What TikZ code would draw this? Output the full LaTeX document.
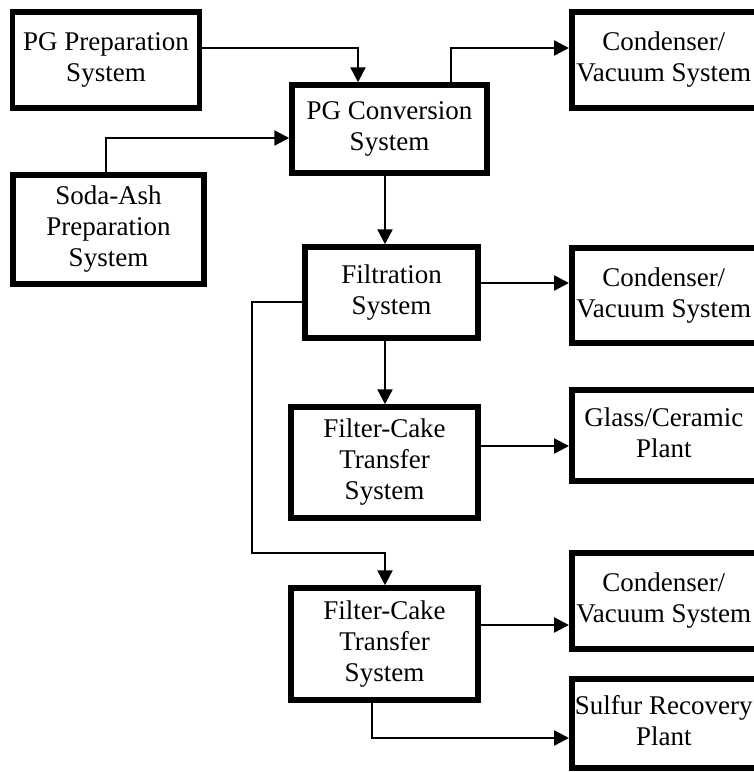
\documentclass[tikz,border=0pt]{standalone}
\usepackage{fontspec}
\setmainfont{Liberation Serif}
\usetikzlibrary{arrows.meta}
\tikzset{
  box/.style={draw=black, line width=5.5pt, rectangle, inner sep=0pt, align=center,
    font=\fontsize{27}{31}\selectfont},
  rbox/.style={box, minimum width=200pt, anchor=west},
  conn/.style={line width=2.4pt, -{Triangle[length=15pt,width=15pt]}},
}
\newcommand{\rtext}[1]{\begin{tabular}{@{}c@{}}#1\end{tabular}\hspace*{16pt}}
\begin{document}
\begin{tikzpicture}[x=1pt,y=-1pt]
\useasboundingbox (0,0) rectangle (754,772);
\fill[white] (0,0) rectangle (754,772);
% left/center boxes
\node[box, minimum width=187pt, minimum height=96pt] (prep) at (106,60) {PG Preparation\\System};
\node[box, minimum width=195pt, minimum height=88pt] (conv) at (389.5,129) {PG Conversion\\System};
\node[box, minimum width=191pt, minimum height=109pt] (soda) at (108.5,229.5) {Soda-Ash\\Preparation\\System};
\node[box, minimum width=173pt, minimum height=91pt] (filt) at (391.5,292.5) {Filtration\\System};
\node[box, minimum width=187pt, minimum height=111pt] (fca) at (384.5,462.5) {Filter-Cake\\Transfer\\System};
\node[box, minimum width=187pt, minimum height=112pt] (fcb) at (384.5,644) {Filter-Cake\\Transfer\\System};
% right column boxes (cut off at the right edge)
\node[rbox, minimum height=96pt] (cda) at (569,60) {\rtext{Condenser/\\Vacuum System}};
\node[rbox, minimum height=95pt] (cdb) at (569,295.5) {\rtext{Condenser/\\Vacuum System}};
\node[rbox, minimum height=91pt] (glass) at (569,435.5) {\rtext{Glass/Ceramic\\Plant}};
\node[rbox, minimum height=96pt] (cdc) at (569,601) {\rtext{Condenser/\\Vacuum System}};
\node[rbox, minimum height=89pt] (sulf) at (569,723.5) {\rtext{Sulfur Recovery\\Plant}};
% connectors
\draw[conn] (prep.east |- 0,48) -| (conv.north -| 358,0);
\draw[conn] (conv.north -| 451,0) |- (cda.west |- 0,48);
\draw[conn] (soda.north -| 106,0) |- (conv.west |- 0,138);
\draw[conn] (conv.south -| 385,0) -- (filt.north -| 385,0);
\draw[conn] (filt.east |- 0,283) -- (cdb.west |- 0,283);
\draw[conn] (filt.south -| 385,0) -- (fca.north -| 385,0);
\draw[conn] (fca.east |- 0,446) -- (glass.west |- 0,446);
\draw[conn] (filt.west |- 0,302) -| (252,553) -| (fcb.north -| 385,0);
\draw[conn] (fcb.east |- 0,625) -- (cdc.west |- 0,625);
\draw[conn] (fcb.south -| 372,0) |- (sulf.west |- 0,738);
\end{tikzpicture}
\end{document}
